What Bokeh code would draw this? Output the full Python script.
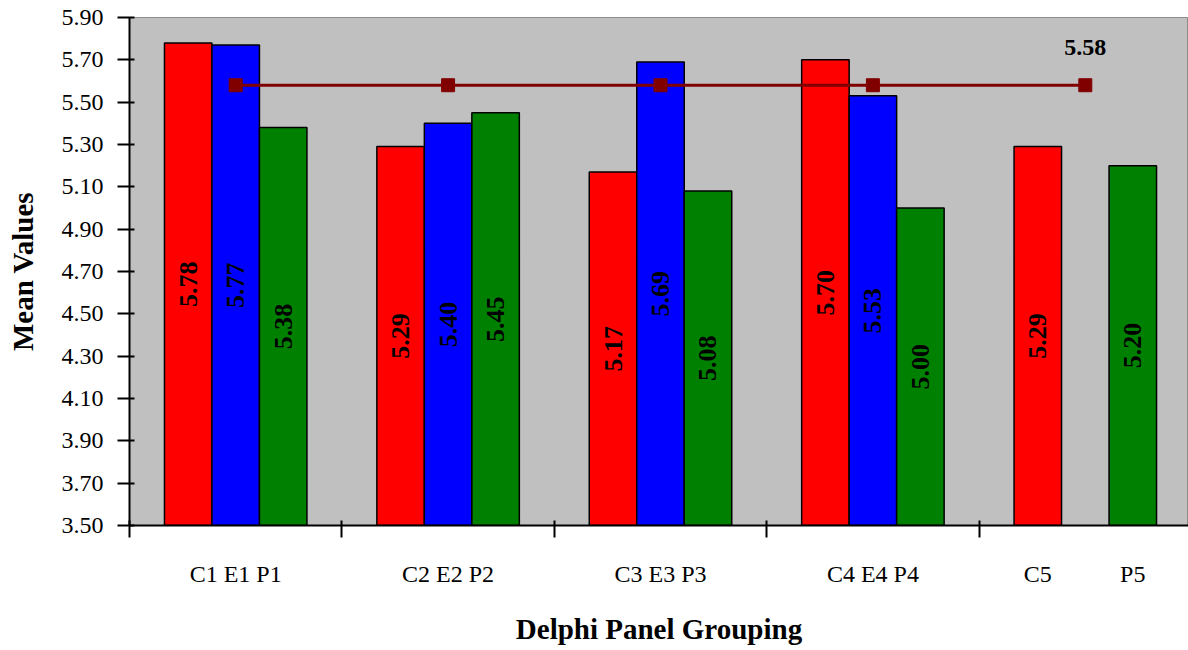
import math
from bokeh.plotting import figure
from bokeh.models import Range1d, FixedTicker, PrintfTickFormatter, ColumnDataSource
from bokeh.core.properties import value
from bokeh.embed import file_html
from bokeh.resources import INLINE

# Mean values per Delphi panel group (C, E, P); E5 does not exist
group_labels = ["C1 E1 P1", "C2 E2 P2", "C3 E3 P3", "C4 E4 P4"]
last_group_labels = ["C5", "P5"]
c_vals = [5.78, 5.29, 5.17, 5.70, 5.29]
e_vals = [5.77, 5.40, 5.69, 5.53, None]
p_vals = [5.38, 5.45, 5.08, 5.00, 5.20]
avg_val = 5.58
y_ticks = [3.50, 3.70, 3.90, 4.10, 4.30, 4.50, 4.70, 4.90, 5.10, 5.30, 5.50, 5.70, 5.90]

Y_MIN, Y_MAX = 3.50, 5.90
SERIF = "Liberation Serif"
BAR_W = 0.2236
centers = [i + 0.5 for i in range(len(c_vals))]

p = figure(width=1188, height=650, output_backend="svg", toolbar_location=None,
           x_range=Range1d(0, 1059 / 212.4), y_range=Range1d(Y_MIN, Y_MAX),
           min_border_left=129, min_border_right=0, min_border_top=17,
           min_border_bottom=125)
p.background_fill_color = "#C0C0C0"
p.border_fill_color = "white"
p.outline_line_color = "#8C8C8C"
p.outline_line_width = 1
p.xgrid.visible = False
p.ygrid.visible = False

series = [(c_vals, -BAR_W, "#FF0000"), (e_vals, 0.0, "#0000FF"), (p_vals, BAR_W, "#008000")]
for vals, off, color in series:
    xs, tops, mids, labels = [], [], [], []
    for c, v in zip(centers, vals):
        if v is None:
            continue
        xs.append(c + off)
        tops.append(v)
        mids.append((Y_MIN + v) / 2)
        labels.append(f"{v:.2f}")
    src = ColumnDataSource(dict(x=xs, top=tops, mid=mids, label=labels))
    p.vbar(x="x", top="top", bottom=Y_MIN, width=BAR_W, source=src,
           fill_color=color, line_color="black", line_width=1.5)
    p.text(x="x", y="mid", text="label", source=src, angle=math.pi / 2,
           text_align="center", text_baseline="middle",
           text_font=value(SERIF), text_font_style="bold",
           text_font_size="26px", text_color="black")

# Overall average line
avg_src = ColumnDataSource(dict(x=centers, y=[avg_val] * len(centers)))
p.line("x", "y", source=avg_src, line_color="#800000", line_width=3)
p.scatter("x", "y", source=avg_src, marker="square", size=13,
          fill_color="#800000", line_color="#800000")
p.text(x=[centers[-1]], y=[avg_val], text=[f"{avg_val:.2f}"], y_offset=-30,
       text_align="center", text_baseline="bottom",
       text_font=value(SERIF), text_font_style="bold",
       text_font_size="24px", text_color="black")

# X axis: labels at group centres, tick marks at group boundaries
label_pos = centers[:4] + [centers[4] - BAR_W, centers[4] + BAR_W]
label_txt = group_labels + last_group_labels
p.xaxis.ticker = FixedTicker(ticks=label_pos, minor_ticks=list(range(len(c_vals) + 1)))
p.xaxis.major_label_overrides = {pos: txt for pos, txt in zip(label_pos, label_txt)}
p.xaxis.major_tick_out = 0
p.xaxis.major_tick_in = 0
p.xaxis.minor_tick_out = 12
p.xaxis.minor_tick_in = 5
p.xaxis.minor_tick_line_color = "black"
p.xaxis.minor_tick_line_width = 2
p.xaxis.major_label_standoff = 23
p.xaxis.axis_label = "Delphi Panel Grouping"
p.xaxis.axis_label_standoff = 23

p.yaxis.ticker = FixedTicker(ticks=y_ticks)
p.yaxis.formatter = PrintfTickFormatter(format="%.2f")
p.yaxis.major_tick_out = 12
p.yaxis.major_tick_in = 5
p.yaxis.minor_tick_line_color = None
p.yaxis.major_label_standoff = 14
p.yaxis.axis_label = "Mean Values"
p.yaxis.axis_label_standoff = 20

for ax in (p.xaxis, p.yaxis):
    ax.axis_line_color = "black"
    ax.axis_line_width = 2
    ax.major_tick_line_color = "black"
    ax.major_tick_line_width = 2
    ax.major_label_text_font = SERIF
    ax.major_label_text_font_size = "24px"
    ax.major_label_text_color = "black"
    ax.axis_label_text_font = SERIF
    ax.axis_label_text_font_style = "bold"
    ax.axis_label_text_font_size = "29px"
    ax.axis_label_text_color = "black"

open("out.html", "w").write(file_html(p, INLINE))
